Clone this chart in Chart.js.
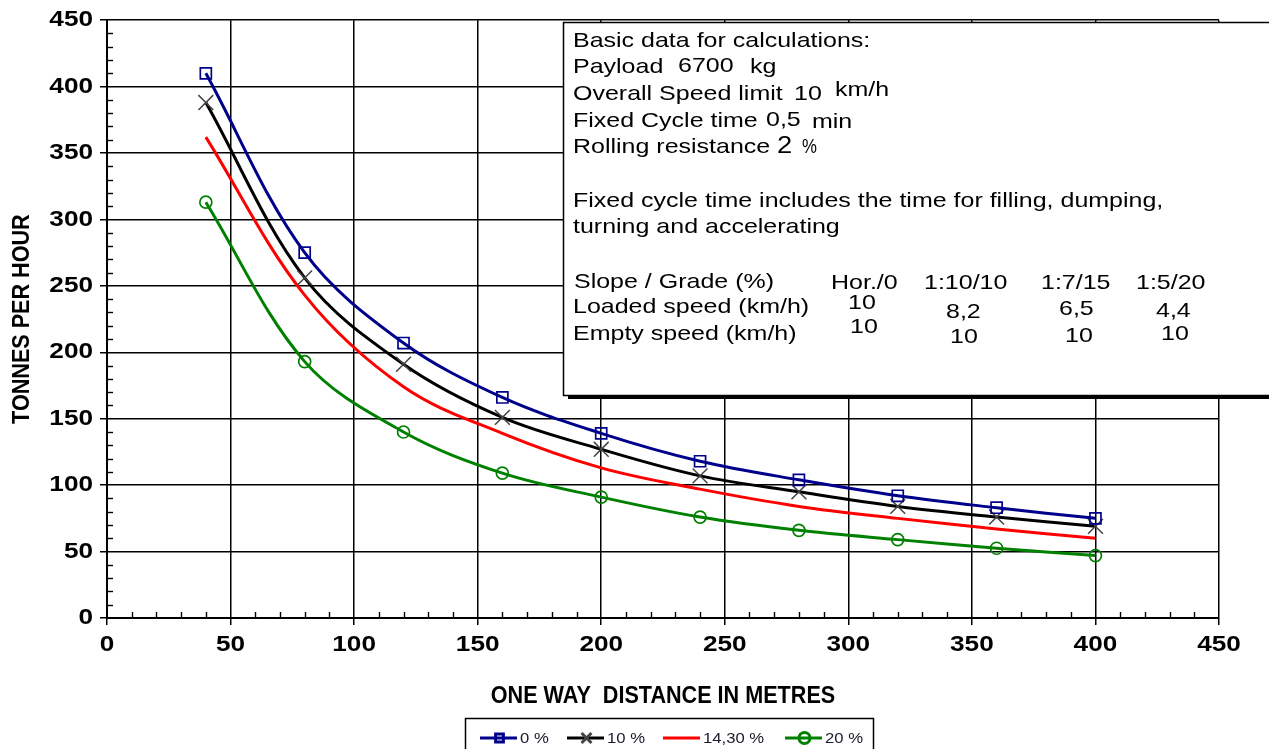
<!DOCTYPE html>
<html><head><meta charset="utf-8">
<script src="https://cdn.jsdelivr.net/npm/chart.js@4"></script>
<style>html,body{margin:0;padding:0;background:#fff;overflow:hidden}canvas{display:block}</style>
</head><body>
<canvas id="c" width="1269" height="749" style="width:1269px;height:749px"></canvas>
<script>
// ---------- data ----------
const distances = [40, 80, 120, 160, 200, 240, 280, 320, 360, 400];
const grade0    = [410, 275, 207, 166, 139, 118, 104, 92, 83, 75];
const grade10   = [388, 256, 191, 151, 127, 107, 95, 84, 76, 69];
const grade1430 = [362, 243, 174, 139, 113, 97, 84, 75, 67, 60];
const grade20   = [313, 193, 140, 109, 91, 76, 66, 59, 52.5, 47];
const seriesLabels = ['0 %', '10 %', '14,30 %', '20 %'];
const xRange = [0, 450], xStep = 50;
const yRange = [0, 450], yStep = 50;
const minorStep = 10;
const xTitle = 'ONE WAY  DISTANCE IN METRES';
const yTitle = 'TONNES PER HOUR';
const slopeGrades = ['Hor./0', '1:10/10', '1:7/15', '1:5/20'];
const loadedSpeeds = ['10', '8,2', '6,5', '4,4'];
const emptySpeeds = ['10', '10', '10', '10'];

const FONT = "'Liberation Sans', Arial, sans-serif";

// horizontal text stretch to mimic the reference rendering
(function(){
  const P = CanvasRenderingContext2D.prototype; const orig = P.fillText;
  P.fillText = function(t, x, y, mw){
    let sx = window.__textSX;
    if (sx == null) sx = /24px/.test(this.font) ? 0.9 : 1.19;
    this.save(); this.translate(x, y); this.scale(sx, 1);
    if (mw == null) orig.call(this, t, 0, 0); else orig.call(this, t, 0, 0, mw / sx);
    this.restore();
  };
})();

const pts = arr => distances.map((d, i) => ({x: d, y: arr[i]}));
const CLEAR = 'rgba(0,0,0,0)';
const datasets = [
  {label: seriesLabels[0], data: pts(grade0), borderColor: '#00008B', borderWidth: 3,
   pointStyle: 'rect', pointRadius: 7.8, pointBorderColor: '#00008B', pointBorderWidth: 1.7, pointBackgroundColor: CLEAR},
  {label: seriesLabels[1], data: pts(grade10), borderColor: '#000000', borderWidth: 3,
   pointStyle: 'crossRot', pointRadius: 10.5, pointBorderColor: '#444', pointBorderWidth: 1.5, pointBackgroundColor: CLEAR},
  {label: seriesLabels[2], data: pts(grade1430), borderColor: '#FF0000', borderWidth: 3,
   pointRadius: 0, pointStyle: false},
  {label: seriesLabels[3], data: pts(grade20), borderColor: '#008000', borderWidth: 3,
   pointStyle: 'circle', pointRadius: 6, pointBorderColor: '#008000', pointBorderWidth: 1.7, pointBackgroundColor: CLEAR}
].map(d => Object.assign({backgroundColor: CLEAR, fill: false, tension: 0.35}, d));

const extras = {
  id: 'extras',
  afterDraw(chart){
    const ctx = chart.ctx, xs = chart.scales.x, ys = chart.scales.y;
    const ca = chart.chartArea;
    ctx.save();
    // minor ticks
    ctx.strokeStyle = '#000'; ctx.lineWidth = 1.4;
    for (let v = yRange[0] + minorStep; v < yRange[1]; v += minorStep) {
      if (v % yStep === 0) continue;
      const py = Math.round(ys.getPixelForValue(v)) + 0.5;
      ctx.beginPath(); ctx.moveTo(ca.left, py); ctx.lineTo(ca.left + 6, py); ctx.stroke();
    }
    for (let v = xRange[0] + minorStep; v < xRange[1]; v += minorStep) {
      if (v % xStep === 0) continue;
      const px = Math.round(xs.getPixelForValue(v)) + 0.5;
      ctx.beginPath(); ctx.moveTo(px, ca.bottom); ctx.lineTo(px, ca.bottom - 6); ctx.stroke();
    }
    // info box
    ctx.fillStyle = '#fff';
    ctx.fillRect(563, 22, 720, 373);
    ctx.strokeStyle = '#000'; ctx.lineWidth = 1.5;
    ctx.strokeRect(563.5, 22.5, 720, 373);
    ctx.fillStyle = '#000';
    ctx.fillRect(568, 395, 710, 4);
    ctx.textAlign = 'left'; ctx.textBaseline = 'alphabetic';
    const T = (s, x, y, size, sx) => {
      ctx.font = (size || 21) + 'px ' + FONT;
      window.__textSX = sx == null ? 1.19 : sx;
      ctx.fillText(s, x, y);
      window.__textSX = null;
    };
    T('Basic data for calculations:', 573, 47);
    T('Payload', 573, 73); T('6700', 678, 72); T('kg', 750, 73);
    T('Overall Speed limit', 573, 100); T('10', 794, 100); T('km/h', 835, 96);
    T('Fixed Cycle time', 573, 127); T('0,5', 766, 126); T('min', 812, 128);
    T('Rolling resistance', 573, 153); T('2', 777, 153, 23); T('%', 802, 153, 21, 0.8);
    T('Fixed cycle time includes the time for filling, dumping,', 573, 207);
    T('turning and accelerating', 573, 233);
    T('Slope / Grade (%)', 574, 288);
    T('Loaded speed (km/h)', 573, 313);
    T('Empty speed (km/h)', 573, 340);
    const gx = [831, 924, 1041, 1136];
    slopeGrades.forEach((s, i) => T(s, gx[i], 289));
    const lx = [848, 946, 1059, 1156], ly = [309, 318, 315, 317];
    loadedSpeeds.forEach((s, i) => T(s, lx[i], ly[i]));
    const ex = [850, 950, 1065, 1161], ey = [333, 343, 342, 340];
    emptySpeeds.forEach((s, i) => T(s, ex[i], ey[i]));
    // legend
    ctx.strokeStyle = '#000'; ctx.lineWidth = 1.5;
    ctx.beginPath(); ctx.moveTo(465.5, 760); ctx.lineTo(465.5, 718.5); ctx.lineTo(873.5, 718.5); ctx.lineTo(873.5, 760); ctx.stroke();
    const legX = [480, 567, 663, 785], legLen = 37, legY = 738;
    chart.data.datasets.forEach((ds, i) => {
      ctx.strokeStyle = ds.borderColor; ctx.lineWidth = 3;
      ctx.beginPath(); ctx.moveTo(legX[i], legY); ctx.lineTo(legX[i] + legLen, legY); ctx.stroke();
      if (ds.pointStyle) {
        ctx.strokeStyle = ds.pointBorderColor; ctx.fillStyle = CLEAR;
        Chart.helpers.drawPoint(ctx, {pointStyle: ds.pointStyle, radius: ds.pointStyle === 'crossRot' ? 7 : 5.5, borderWidth: 1.5, rotation: 0}, legX[i] + legLen / 2 + 1, legY);
      }
      ctx.fillStyle = '#1a1a2a';
      ctx.font = '14px ' + FONT; ctx.textBaseline = 'middle';
      ctx.fillText(ds.label, legX[i] + legLen + 3, legY + 1);
    });
    ctx.restore();
  }
};

new Chart(document.getElementById('c'), {
  type: 'line',
  data: {datasets},
  plugins: [extras],
  options: {
    responsive: false, animation: false, devicePixelRatio: 1,
    layout: {padding: {left: 0, top: 20, right: 50, bottom: 0}},
    plugins: {legend: {display: false}, tooltip: {enabled: false}},
    scales: {
      x: {
        type: 'linear', min: xRange[0], max: xRange[1],
        ticks: {stepSize: xStep, color: '#000', font: {family: FONT, size: 22, weight: 'bold'}, padding: 7, maxRotation: 0, autoSkip: false},
        grid: {color: '#000', lineWidth: 1.5, tickLength: 7, tickWidth: 1.5, tickColor: '#000'},
        border: {color: '#000', width: 2},
        title: {display: true, text: xTitle, color: '#000', font: {family: FONT, size: 24, weight: 'bold'}, padding: {top: 0, bottom: 38}},
        afterFit(s){ s.height = 131; }
      },
      y: {
        min: yRange[0], max: yRange[1],
        ticks: {stepSize: yStep, color: '#000', font: {family: FONT, size: 22, weight: 'bold'}, padding: 7},
        grid: {color: '#000', lineWidth: 1.5, tickLength: 7, tickWidth: 1.5, tickColor: '#000'},
        border: {color: '#000', width: 2},
        title: {display: true, text: yTitle, color: '#000', font: {family: FONT, size: 24, weight: 'bold'}, padding: {top: 8, bottom: 0}},
        afterFit(s){ s.width = 107; }
      }
    }
  }
});
</script>
</body></html>
